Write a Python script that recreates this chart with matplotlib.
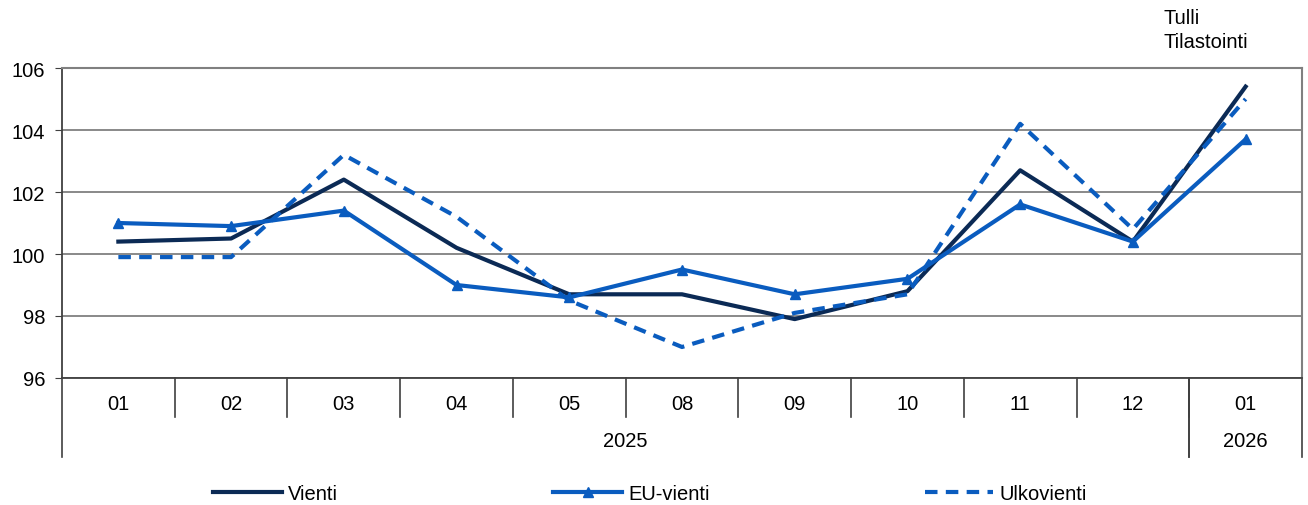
import matplotlib
matplotlib.use("Agg")
import matplotlib.pyplot as plt
import matplotlib.transforms as mtransforms

plt.rcParams['font.family'] = ['Liberation Sans', 'DejaVu Sans']

months = ["01", "02", "03", "04", "05", "08", "09", "10", "11", "12", "01"]
years = ["2025", "2026"]
year_spans = [(0, 9), (10, 10)]

vienti = [100.4, 100.5, 102.4, 100.2, 98.7, 98.7, 97.9, 98.8, 102.7, 100.4, 105.4]
eu_vienti = [101.0, 100.9, 101.4, 99.0, 98.6, 99.5, 98.7, 99.2, 101.6, 100.4, 103.7]
ulkovienti = [99.9, 99.9, 103.2, 101.2, 98.5, 97.0, 98.1, 98.7, 104.2, 100.8, 105.0]

dark = "#0b2a55"
blue = "#0a5cbf"
grid_c = "#808080"
fs = 14.5

fig = plt.figure(figsize=(13.08, 5.06), dpi=100)
ax = fig.add_axes([0.0474, 0.251, 0.948, 0.6126])

x = list(range(len(months)))
ax.plot(x, vienti, color=dark, lw=3, label="Vienti", zorder=3)
ax.plot(x, eu_vienti, color=blue, lw=3, marker="^", ms=7, label="EU-vienti", zorder=3)
ax.plot(x, ulkovienti, color=blue, lw=3, ls=(0, (3, 2)), label="Ulkovienti", zorder=3)

ax.set_xlim(-0.5, len(months) - 0.5)
ax.set_ylim(96, 106)
ax.set_yticks([96, 98, 100, 102, 104, 106])
ax.tick_params(axis="y", labelsize=fs, length=5, color="#404040", pad=7)
ax.set_xticks([])
ax.yaxis.grid(True, color=grid_c, lw=1.3)
ax.set_axisbelow(True)

for s in ["top", "right"]:
    ax.spines[s].set_color(grid_c)
    ax.spines[s].set_linewidth(1.5)
ax.spines["left"].set_color("#404040")
ax.spines["left"].set_linewidth(1.3)
ax.spines["bottom"].set_color("#404040")
ax.spines["bottom"].set_linewidth(1.3)

# category axis: month labels, separators, year labels
tr = mtransforms.blended_transform_factory(ax.transData, ax.transAxes)
px = 1 / (0.6126 * 506)
for i, m in enumerate(months):
    ax.text(i, -26 * px, m, transform=tr, ha="center", va="center", fontsize=fs)
for i in range(1, len(months)):
    ax.plot([i - 0.5, i - 0.5], [0, -39 * px], transform=tr, color="#404040",
            lw=1.2, clip_on=False)
for yr, (a, b) in zip(years, year_spans):
    ax.text((a + b) / 2, -63 * px, yr, transform=tr, ha="center", va="center", fontsize=fs)
    for edge in (a - 0.5, b + 0.5):
        ax.plot([edge, edge], [0, -79 * px], transform=tr, color="#404040",
                lw=1.2, clip_on=False)

fig.text(1163 / 1308, 1 - 18 / 506, "Tulli", fontsize=fs, va="center", ha="left")
fig.text(1163 / 1308, 1 - 42 / 506, "Tilastointi", fontsize=fs, va="center", ha="left")

fig.legend(loc="center", bbox_to_anchor=(0.497, 1 - 495 / 506), ncol=3, frameon=False,
           fontsize=fs, handlelength=3.4, columnspacing=10.7, handletextpad=0.3)

fig.savefig("out.png", dpi=100)
